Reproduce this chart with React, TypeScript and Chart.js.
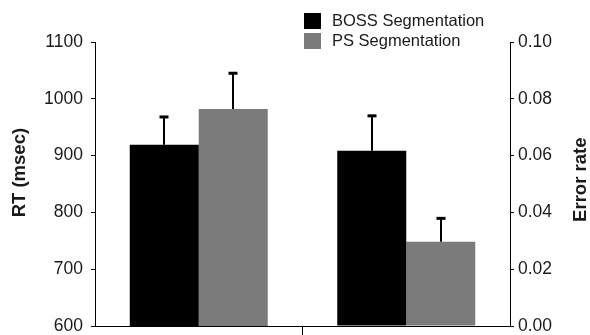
import React, { useEffect, useRef } from "react";
import { Chart, registerables } from "chart.js";

Chart.register(...registerables);

const categories = ["RT", "Error rate"];
const seriesLabels = ["BOSS Segmentation", "PS Segmentation"];
const seriesColors = ["#000000", "#7b7b7b"];
// RT (msec) means, [BOSS, PS], and their upward error bars
const rtValues = [919, 982];
const rtErrors = [49, 63];
// Error rate means, [BOSS, PS], and their upward error bars
const errValues = [0.0617, 0.0297];
const errErrors = [0.0123, 0.0082];
// Axis tick labels and titles
const rtTicks = [600, 700, 800, 900, 1000, 1100];
const errTicks = [0, 0.02, 0.04, 0.06, 0.08, 0.1];
const rtTitle = "RT (msec)";
const errTitle = "Error rate";

const FONT = "'Liberation Sans', Arial, Helvetica, sans-serif";
const TEXT = "#1a1a1a";

const errorBarPlugin = {
  id: "errorBars",
  afterDatasetsDraw(chart: any) {
    const ctx = chart.ctx;
    chart.data.datasets.forEach((ds: any, i: number) => {
      const meta = chart.getDatasetMeta(i);
      const scale = chart.scales[ds.yAxisID];
      meta.data.forEach((bar: any, j: number) => {
        const v = ds.data[j];
        if (v === null || v === undefined) return;
        const e = ds.errors[j];
        const yTop = scale.getPixelForValue(v + e);
        const x = Math.round(bar.x);
        ctx.save();
        ctx.strokeStyle = "#000";
        ctx.lineWidth = 2;
        ctx.beginPath();
        ctx.moveTo(x, bar.y);
        ctx.lineTo(x, yTop);
        ctx.stroke();
        ctx.lineWidth = 3;
        ctx.beginPath();
        ctx.moveTo(x - 4.5, yTop);
        ctx.lineTo(x + 4.5, yTop);
        ctx.stroke();
        ctx.restore();
      });
    });
  },
};

const decorPlugin = {
  id: "decor",
  afterDraw(chart: any) {
    const ctx = chart.ctx;
    ctx.save();
    // legend
    ctx.font = `16.5px ${FONT}`;
    ctx.textBaseline = "middle";
    ctx.textAlign = "left";
    seriesLabels.forEach((label, i) => {
      const y = 13 + i * 20;
      ctx.fillStyle = seriesColors[i];
      ctx.fillRect(304, y, 17, 16);
      ctx.fillStyle = TEXT;
      ctx.fillText(label, 332, y + 8.5);
    });
    // axis titles, both reading bottom to top
    ctx.font = `bold 18.5px ${FONT}`;
    ctx.textAlign = "center";
    ctx.textBaseline = "middle";
    ctx.fillStyle = TEXT;
    const drawRot = (text: string, x: number, y: number) => {
      ctx.save();
      ctx.translate(x, y);
      ctx.rotate(-Math.PI / 2);
      ctx.fillText(text, 0, 0);
      ctx.restore();
    };
    const ca = chart.chartArea;
    drawRot(rtTitle, 20, ca.top + (ca.bottom - ca.top) * 0.46);
    drawRot(errTitle, 581, ca.top + (ca.bottom - ca.top) * 0.485);
    ctx.restore();
  },
};

export default function App() {
  const ref = useRef<HTMLCanvasElement | null>(null);

  useEffect(() => {
    if (!ref.current) return;
    const datasets = [
      {
        label: seriesLabels[0],
        data: [rtValues[0], null],
        errors: [rtErrors[0], 0],
        yAxisID: "y",
        backgroundColor: seriesColors[0],
      },
      {
        label: seriesLabels[1],
        data: [rtValues[1], null],
        errors: [rtErrors[1], 0],
        yAxisID: "y",
        backgroundColor: seriesColors[1],
      },
      {
        label: seriesLabels[0],
        data: [null, errValues[0]],
        errors: [0, errErrors[0]],
        yAxisID: "y1",
        backgroundColor: seriesColors[0],
      },
      {
        label: seriesLabels[1],
        data: [null, errValues[1]],
        errors: [0, errErrors[1]],
        yAxisID: "y1",
        backgroundColor: seriesColors[1],
      },
    ].map((d) => ({
      ...d,
      skipNull: true,
      borderWidth: 0,
      categoryPercentage: 0.665,
      barPercentage: 1,
    }));

    const fixY = (w: number) => (s: any) => {
      s.width = w;
      s.paddingTop = 0;
      s.paddingBottom = 0;
    };

    const chart = new Chart(ref.current, {
      type: "bar",
      data: { labels: categories, datasets: datasets as any },
      options: {
        responsive: false,
        animation: false,
        layout: { autoPadding: false, padding: { top: 42, left: 0, right: 0, bottom: 0 } },
        plugins: {
          legend: { display: false },
          tooltip: { enabled: false },
        },
        scales: {
          x: {
            type: "category",
            offset: true,
            ticks: { display: false },
            grid: {
              offset: true,
              drawOnChartArea: false,
              drawTicks: true,
              tickLength: 9,
              color: (c: any) => (c.index === 1 ? "#000" : "rgba(0,0,0,0)"),
              lineWidth: 1,
            },
            border: { display: true, color: "#000", width: 1 },
            afterFit: (s: any) => {
              s.height = 9;
              s.paddingLeft = 0;
              s.paddingRight = 0;
            },
          },
          y: {
            type: "linear",
            position: "left",
            min: 600,
            max: 1100,
            afterBuildTicks: (s: any) => {
              s.ticks = rtTicks.map((v) => ({ value: v }));
            },
            ticks: {
              color: TEXT,
              font: { family: FONT, size: 17.5 },
              padding: 8,
              callback: (v: any) => String(v),
            },
            grid: {
              drawOnChartArea: false,
              drawTicks: true,
              tickLength: 4,
              color: "#000",
            },
            border: { display: true, color: "#000", width: 1 },
            afterFit: fixY(95),
          },
          y1: {
            type: "linear",
            position: "right",
            min: 0,
            max: 0.1,
            afterBuildTicks: (s: any) => {
              s.ticks = errTicks.map((v) => ({ value: v }));
            },
            ticks: {
              color: TEXT,
              font: { family: FONT, size: 17.5 },
              padding: 4,
              callback: (v: any) => Number(v).toFixed(2),
            },
            grid: {
              drawOnChartArea: false,
              drawTicks: true,
              tickLength: 4,
              color: "#000",
            },
            border: { display: true, color: "#000", width: 1 },
            afterFit: fixY(80),
          },
        },
      } as any,
      plugins: [errorBarPlugin, decorPlugin],
    });
    return () => chart.destroy();
  }, []);

  return (
    <canvas
      ref={ref}
      width={590}
      height={335}
      style={{ position: "absolute", left: 0, top: 0, display: "block", width: 590, height: 335 }}
    />
  );
}
